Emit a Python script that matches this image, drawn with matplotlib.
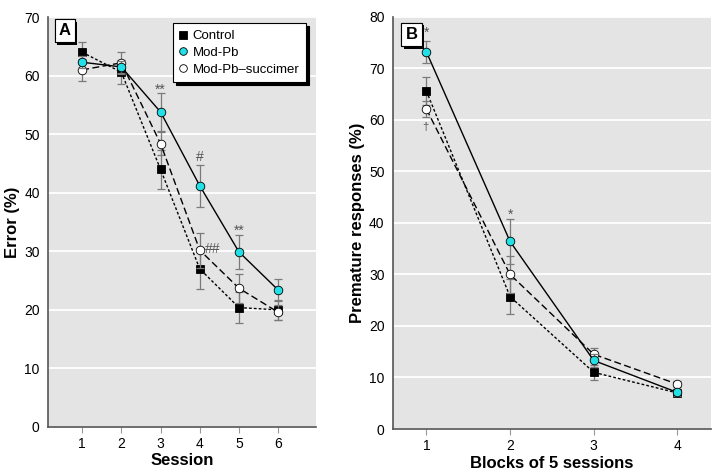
import matplotlib.pyplot as plt
import matplotlib.patheffects as pe
import numpy as np

# Panel A: error (%) by session
sessions = [1, 2, 3, 4, 5, 6]
err_control = [64.0, 60.6, 44.0, 27.0, 20.4, 20.0]
err_control_sem = [1.7, 2.1, 3.3, 3.5, 2.7, 1.7]
err_modpb = [62.3, 61.5, 53.8, 41.2, 29.9, 23.4]
err_modpb_sem = [1.0, 1.0, 3.2, 3.6, 2.9, 1.8]
err_succ = [61.0, 62.2, 48.4, 30.2, 23.7, 19.6]
err_succ_sem = [1.9, 1.9, 2.0, 3.0, 2.5, 1.3]

# Panel B: premature responses (%) by block of 5 sessions
blocks = [1, 2, 3, 4]
pr_control = [65.6, 25.7, 11.0, 7.0]
pr_control_sem = [2.8, 3.4, 1.5, 0.6]
pr_modpb = [73.2, 36.4, 13.3, 7.1]
pr_modpb_sem = [2.1, 4.3, 1.2, 0.6]
pr_succ = [62.1, 30.0, 14.5, 8.7]
pr_succ_sem = [1.5, 3.6, 1.2, 0.6]

# significance marks (x, y, text)
marks_a = [(3, 57.6, '**'), (4, 46.1, '#'), (4.33, 30.4, '##'), (5, 33.5, '**')]
marks_b = [(1, 76.9, '*'), (0.985, 58.6, '\u2020'), (2, 41.5, '*')]

# narrow font first if it exists, otherwise fall back
plt.rcParams['font.family'] = ['Liberation Sans Narrow', 'DejaVu Sans Condensed',
                               'Liberation Sans', 'DejaVu Sans']
plt.rcParams['font.size'] = 10

BG = '#e4e4e4'
ERR = '#7a7a7a'
CYAN = '#22e0e6'


def style_axes(ax):
    ax.set_facecolor(BG)
    for s in ['top', 'right']:
        ax.spines[s].set_visible(False)
    for s in ['left', 'bottom']:
        ax.spines[s].set_color('#555555')
        ax.spines[s].set_linewidth(1.2)
    ax.yaxis.grid(True, color='white', linewidth=1.3)
    ax.set_axisbelow(True)
    ax.tick_params(axis='y', length=0, pad=6, labelsize=10)
    ax.tick_params(axis='x', length=4, color='#999999', pad=3, labelsize=10)


def draw_series(ax, x, y, sem, ls, marker, face, label, z):
    ax.errorbar(x, y, yerr=sem, fmt='none', ecolor=ERR, elinewidth=0.9,
                capsize=3, capthick=0.9, zorder=z - 1)
    ax.plot(x, y, linestyle=ls, color='black', linewidth=1.0, zorder=z,
            marker=marker, markersize=6.2 if marker == 'o' else 6,
            markerfacecolor=face, markeredgecolor='black', markeredgewidth=0.6,
            label=label)


def add_marks(ax, marks):
    for x, y, t in marks:
        ax.text(x, y, t, ha='center', va='center',
                fontsize=8 if t == '\u2020' else 10, color='#555555', zorder=12)


def panel_label(ax, text, y=0.985):
    t = ax.text(0.04, y, text, transform=ax.transAxes, fontsize=12,
                fontweight='bold', ha='left', va='top', zorder=10,
                bbox=dict(boxstyle='square,pad=0.25', facecolor='white',
                          edgecolor='black', linewidth=0.8))
    t.get_bbox_patch().set_path_effects(
        [pe.withSimplePatchShadow(offset=(1.8, -1.8), shadow_rgbFace='black', alpha=1), pe.Normal()])


fig = plt.figure(figsize=(7.17, 4.70), dpi=100)
ax1 = fig.add_axes([0.067, 0.0915, 0.374, 0.872])
ax2 = fig.add_axes([0.548, 0.0872, 0.4435, 0.877])

# panel A
style_axes(ax1)
draw_series(ax1, sessions, err_control, err_control_sem, (0, (2, 1.5)), 's', 'black', 'Control', 4)
draw_series(ax1, sessions, err_succ, err_succ_sem, (0, (5, 2.5)), 'o', 'white', 'Mod-Pb\u2013succimer', 6)
draw_series(ax1, sessions, err_modpb, err_modpb_sem, '-', 'o', CYAN, 'Mod-Pb', 8)
add_marks(ax1, marks_a)
ax1.set_xlim(0.13, 6.97)
ax1.set_ylim(0, 70)
ax1.set_xticks(sessions)
ax1.set_yticks(range(0, 71, 10))
ax1.set_xlabel('Session', fontsize=12, fontweight='bold', labelpad=2)
ax1.set_ylabel('Error (%)', fontsize=12, fontweight='bold', labelpad=3)
panel_label(ax1, 'A')
handles, labels = ax1.get_legend_handles_labels()
order = [0, 2, 1]
leg = ax1.legend([handles[i] for i in order], [labels[i] for i in order],
                 loc='upper right', bbox_to_anchor=(0.962, 0.985), borderaxespad=0,
                 fontsize=9.5, handlelength=0.6, handletextpad=0.4,
                 borderpad=0.5, labelspacing=0.35, fancybox=False,
                 framealpha=1, edgecolor='black',
                 shadow={'color': 'black', 'alpha': 1})
for h in leg.legend_handles:
    h.set_linestyle('none')
    h.set_markersize(5.5)
leg.get_frame().set_linewidth(0.8)
leg.set_zorder(20)

# panel B
style_axes(ax2)
draw_series(ax2, blocks, pr_control, pr_control_sem, (0, (2, 1.5)), 's', 'black', 'Control', 4)
draw_series(ax2, blocks, pr_succ, pr_succ_sem, (0, (5, 2.5)), 'o', 'white', 'Mod-Pb\u2013succimer', 6)
draw_series(ax2, blocks, pr_modpb, pr_modpb_sem, '-', 'o', CYAN, 'Mod-Pb', 8)
add_marks(ax2, marks_b)
ax2.set_xlim(0.6, 4.4)
ax2.set_ylim(0, 80)
ax2.set_xticks(blocks)
ax2.set_yticks(range(0, 81, 10))
ax2.set_xlabel('Blocks of 5 sessions', fontsize=12, fontweight='bold', labelpad=2)
ax2.set_ylabel('Premature responses (%)', fontsize=12, fontweight='bold', labelpad=3)
panel_label(ax2, 'B', y=0.975)

fig.savefig('out.png', dpi=100)
